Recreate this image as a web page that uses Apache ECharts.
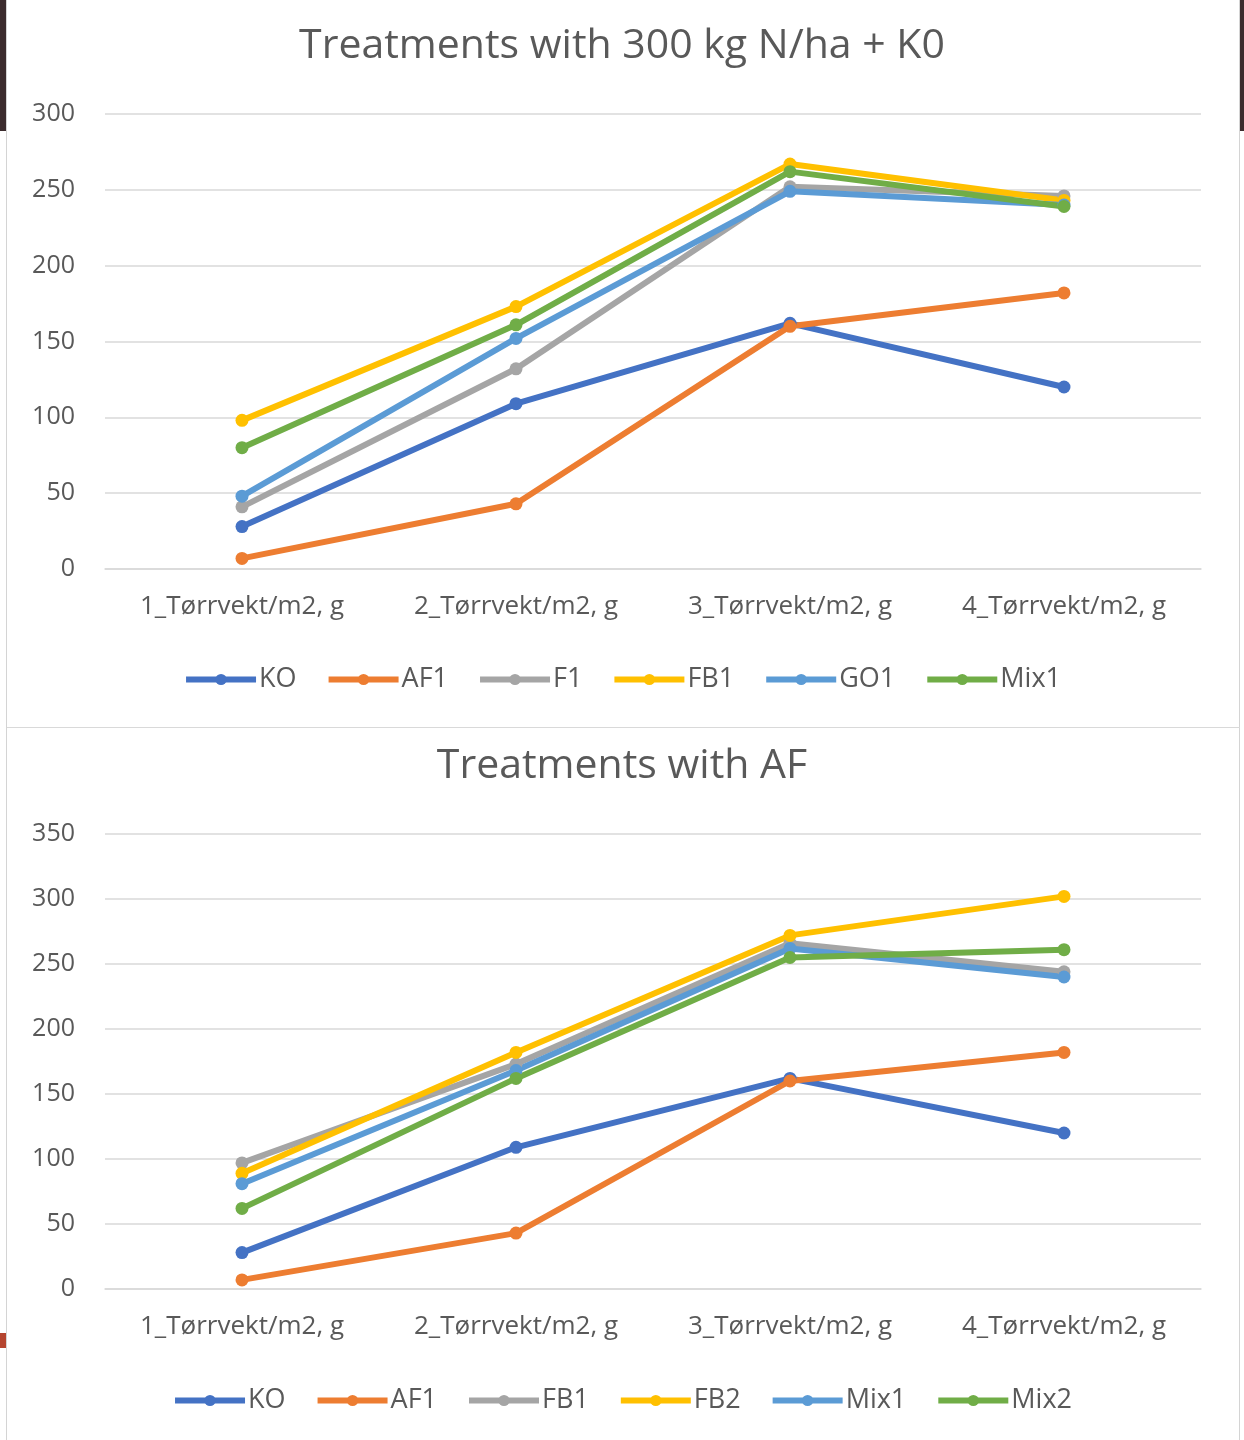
<!DOCTYPE html>
<html>
<head>
<meta charset="utf-8">
<script src="https://cdn.jsdelivr.net/npm/echarts@6/dist/echarts.min.js"></script>
<style>
  html, body { margin: 0; padding: 0; background: #ffffff; }
  #page { position: relative; width: 1244px; height: 1440px; background: #ffffff; overflow: hidden; }
  #chartTop { position: absolute; left: 0; top: 0; width: 1244px; height: 727px; }
  #chartBottom { position: absolute; left: 0; top: 728px; width: 1244px; height: 712px; }
  .edge { position: absolute; }
</style>
</head>
<body>
<div id="page">
  <div id="chartTop"></div>
  <div id="chartBottom"></div>
  <!-- frame lines and slide edges around the two charts -->
  <div class="edge" style="left:6px;top:0;width:1px;height:1440px;background:#d4d4d4;"></div>
  <div class="edge" style="left:1239px;top:0;width:1px;height:1440px;background:#d4d4d4;"></div>
  <div class="edge" style="left:7px;top:727px;width:1233px;height:1px;background:#d9d9d9;"></div>
  <div class="edge" style="left:0;top:0;width:6px;height:131px;background:#3b2b2d;"></div>
  <div class="edge" style="left:1240px;top:0;width:4px;height:131px;background:#3b2b2d;"></div>
  <div class="edge" style="left:0;top:1333px;width:6px;height:15px;background:#b5452f;"></div>
</div>
<script>
// Harvest dates (dry weight per m2, grams)
const categories = ['1_Tørrvekt/m2, g', '2_Tørrvekt/m2, g', '3_Tørrvekt/m2, g', '4_Tørrvekt/m2, g'];

// Treatments with 300 kg N/ha + K0
const topNames = ['KO', 'AF1', 'F1', 'FB1', 'GO1', 'Mix1'];
const topKO   = [28, 109, 162, 120];
const topAF1  = [7, 43, 160, 182];
const topF1   = [41, 132, 252, 246];
const topFB1  = [98, 173, 267, 243];
const topGO1  = [48, 152, 249, 240];
const topMix1 = [80, 161, 262, 239];

// Treatments with AF
const bottomNames = ['KO', 'AF1', 'FB1', 'FB2', 'Mix1', 'Mix2'];
const botKO   = [28, 109, 162, 120];
const botAF1  = [7, 43, 160, 182];
const botFB1  = [97, 173, 266, 244];
const botFB2  = [89, 182, 272, 302];
const botMix1 = [81, 168, 262, 240];
const botMix2 = [62, 162, 255, 261];

const palette = ['#4472C4', '#ED7D31', '#A5A5A5', '#FFC000', '#5B9BD5', '#70AD47'];
const textColor = '#595959';
const fontFamily = '"Open Sans", "Noto Sans", sans-serif';

function buildOption(title, names, values, yMax, layout) {
  return {
    animation: false,
    color: palette,
    backgroundColor: '#ffffff',
    title: {
      text: title,
      left: 'center',
      top: layout.titleTop,
      textStyle: { color: textColor, fontFamily: fontFamily, fontSize: 41, fontWeight: 'normal' }
    },
    legend: {
      data: names,
      left: 'center',
      top: layout.legendTop,
      itemWidth: 70,
      itemHeight: 14,
      itemGap: 29,
      lineStyle: { width: 6 },
      textStyle: { color: textColor, fontFamily: fontFamily, fontSize: 27, padding: [0, 0, 0, -2] }
    },
    grid: { left: 105, right: 43, top: layout.top, bottom: layout.bottom, containLabel: false },
    xAxis: {
      type: 'category',
      data: categories,
      boundaryGap: true,
      axisLine: { show: true, lineStyle: { color: '#d9d9d9', width: 1.5 } },
      axisTick: { show: false },
      axisLabel: { interval: 0, hideOverlap: false, color: textColor, fontFamily: fontFamily, fontSize: 26, margin: 25 }
    },
    yAxis: {
      type: 'value',
      min: 0,
      max: yMax,
      interval: 50,
      axisLine: { show: false },
      axisTick: { show: false },
      splitLine: { lineStyle: { color: '#d9d9d9', width: 1.5 } },
      axisLabel: { color: textColor, fontFamily: fontFamily, fontSize: 25, margin: 30 }
    },
    series: names.map(function (name, i) {
      return {
        name: name,
        type: 'line',
        data: values[i],
        symbol: 'circle',
        symbolSize: 13,
        lineStyle: { width: 6 },
        emphasis: { disabled: true }
      };
    })
  };
}

const topChart = echarts.init(document.getElementById('chartTop'), null, { renderer: 'canvas' });
topChart.setOption(buildOption(
  'Treatments with 300 kg N/ha + K0',
  topNames,
  [topKO, topAF1, topF1, topFB1, topGO1, topMix1],
  300,
  { top: 114, bottom: 158, titleTop: 21, legendTop: 661 }
));

const bottomChart = echarts.init(document.getElementById('chartBottom'), null, { renderer: 'canvas' });
bottomChart.setOption(buildOption(
  'Treatments with AF',
  bottomNames,
  [botKO, botAF1, botFB1, botFB2, botMix1, botMix2],
  350,
  { top: 106, bottom: 151, titleTop: 13, legendTop: 654 }
));
</script>
</body>
</html>
